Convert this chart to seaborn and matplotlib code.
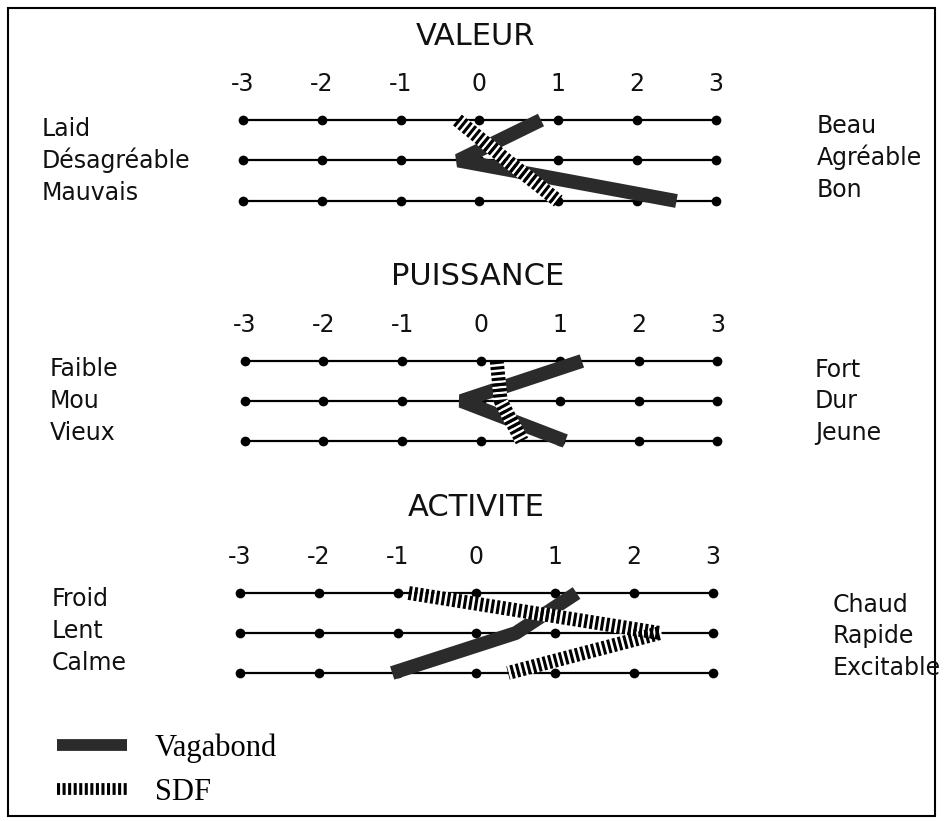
import pandas as pd
import seaborn as sns
import matplotlib
matplotlib.use("Agg")
from matplotlib import pyplot as plt
from matplotlib.patches import Rectangle

# ---- data ----
scale_ticks = [-3, -2, -1, 0, 1, 2, 3]
tick_labels = ["-3", "-2", "-1", "0", "1", "2", "3"]
titles = ["VALEUR", "PUISSANCE", "ACTIVITE"]
left_labels = [["Laid", "Désagréable", "Mauvais"],
               ["Faible", "Mou", "Vieux"],
               ["Froid", "Lent", "Calme"]]
right_labels = [["Beau", "Agréable", "Bon"],
                ["Fort", "Dur", "Jeune"],
                ["Chaud", "Rapide", "Excitable"]]
vagabond = [[0.78, -0.27, 2.5],
            [1.28, -0.25, 1.07],
            [1.27, 0.5, -1.07]]
sdf = [[-0.28, 0.35, 1.0],
       [0.2, 0.25, 0.52],
       [-0.86, 2.33, 0.4]]
groups = ["Vagabond", "SDF"]

# ---- layout (pixels) ----
W, H = 944, 821
UNIT = 78.8
rows_px = [(120, 201), (361, 441), (593, 673)]
zero_px = [479.5, 481, 476.5]
title_pos = [(476, 45), (478, 285), (476, 516)]
left_x = [42, 50, 52]
left_base = [[136, 168, 200], [376, 408, 440], [606, 638, 670]]
right_x = [817, 815, 833]
right_base = [[133, 165, 197], [377, 408, 440], [612, 643, 675]]

sns.set_style("white")
plt.rcParams["font.family"] = ["DejaVu Sans"]
plt.rcParams["axes.unicode_minus"] = False
plt.rcParams["lines.scale_dashes"] = False

fig = plt.figure(figsize=(W / 100, H / 100), dpi=100)


def box(left, top, right, bottom):
    return [left / W, 1 - bottom / H, (right - left) / W, (bottom - top) / H]


def fx(x):
    return x / W


def fy(y):
    return 1 - y / H


base = pd.DataFrame([(t, r) for r in range(3) for t in scale_ticks], columns=["score", "row"])
handles = []

for i in range(3):
    y0, y2 = rows_px[i]
    uy = (y2 - y0) / 2
    x0 = zero_px[i]
    ax = fig.add_axes(box(x0 - 3.5 * UNIT, y0 - uy / 2, x0 + 3.5 * UNIT, y2 + uy / 2))

    sns.lineplot(data=base, x="score", y="row", units="row", estimator=None, sort=True,
                 color="black", lw=1.6, marker="o", markersize=7, markeredgewidth=0,
                 legend=False, ax=ax, zorder=1)

    vag = pd.DataFrame({"score": vagabond[i], "row": [0, 1, 2]})
    sns.lineplot(data=vag, x="score", y="row", sort=False, estimator=None, color="#2b2b2b",
                 lw=10, solid_joinstyle="bevel", solid_capstyle="butt", label=groups[0],
                 legend=False, ax=ax, zorder=3, clip_on=False)

    sd = pd.DataFrame({"score": sdf[i], "row": [0, 1, 2]})
    sns.lineplot(data=sd, x="score", y="row", sort=False, estimator=None, color="black",
                 lw=10, linestyle=(0, (2.2, 1.8)), gapcolor="white", dash_capstyle="butt",
                 dash_joinstyle="bevel", label=groups[1], legend=False, ax=ax, zorder=4,
                 clip_on=False)

    if i == 0:
        handles = ax.get_lines()[-2:]

    ax.set_xlim(-3.5, 3.5)
    ax.set_ylim(2.5, -0.5)
    ax.set_xlabel("")
    ax.set_ylabel("")
    ax.set_yticks([])
    ax.xaxis.tick_top()
    ax.set_xticks(scale_ticks, tick_labels)
    ax.tick_params(axis="x", length=0, pad=3, labelsize=17, colors="#111111")
    for s in ax.spines.values():
        s.set_visible(False)
    ax.patch.set_alpha(0)

    fig.text(fx(title_pos[i][0]), fy(title_pos[i][1]), titles[i], ha="center",
             va="baseline", fontsize=22, color="#111111")
    for lab, b in zip(left_labels[i], left_base[i]):
        fig.text(fx(left_x[i]), fy(b), lab, ha="left", va="baseline", fontsize=17, color="#111111")
    for lab, b in zip(right_labels[i], right_base[i]):
        fig.text(fx(right_x[i]), fy(b), lab, ha="left", va="baseline", fontsize=17, color="#111111")

leg = fig.legend(handles=handles, labels=groups, loc="center left",
                 bbox_to_anchor=(fx(57), fy(770)), frameon=False,
                 prop={"family": "Liberation Serif", "size": 22}, labelcolor="black",
                 handlelength=2.29, handletextpad=0.92, labelspacing=0.5,
                 borderpad=0, borderaxespad=0)
for ln in leg.get_lines():
    ln.set_linewidth(8.5)

fig.add_artist(Rectangle((fx(8), fy(816)), (935 - 8) / W, (816 - 8) / H,
                         transform=fig.transFigure, fill=False, lw=1.5, ec="black"))

fig.savefig("out.png", dpi=100)
